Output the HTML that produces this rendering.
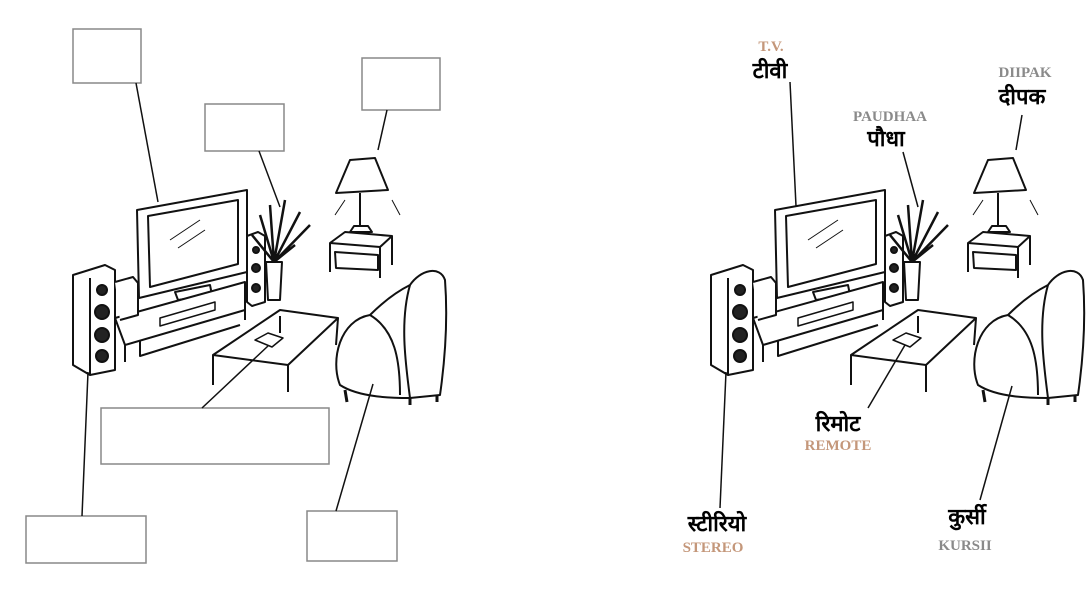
<!DOCTYPE html>
<html><head><meta charset="utf-8"><style>
html,body{margin:0;padding:0;background:#fff;width:1089px;height:600px;overflow:hidden}
svg{display:block}
.lb{font-family:"Liberation Serif",serif;font-weight:bold;font-size:15px;text-anchor:middle}
.hi{font-family:"Liberation Sans","Noto Sans CJK SC",sans-serif;font-weight:bold;font-size:22px;text-anchor:middle;fill:#000}
</style></head><body>
<svg width="1089" height="600" viewBox="0 0 1089 600" xmlns="http://www.w3.org/2000/svg">
<defs>
<g id="scene" fill="none" stroke="#111" stroke-width="2" stroke-linejoin="round">
 <!-- TV -->
 <path d="M137 210 L247 190 L247 272 L139 298 Z" fill="#fff"/>
 <path d="M148 216 L238 200 L238 264 L150 287 Z"/>
 <path d="M170 240 L200 220 M178 248 L205 230" stroke-width="1"/>
 <path d="M175 292 L210 285 L212 295 L178 300 Z" fill="#fff"/>
 <!-- cabinet -->
 <path d="M115 318 L245 282 L245 310 L125 345 Z" fill="#fff"/>
 <path d="M125 345 L125 362 M245 310 L245 320 M140 340 L140 356 L240 325"/>
 <path d="M160 318 L215 302 L215 310 L160 326 Z" fill="#fff" stroke-width="1.5"/>
 <!-- left speaker -->
 <path d="M73 275 L105 265 L115 270 L115 370 L90 375 L73 365 Z" fill="#fff"/>
 <path d="M90 278 L90 375" />
 <circle cx="102" cy="290" r="5" fill="#222"/><circle cx="102" cy="312" r="7" fill="#222"/>
 <circle cx="102" cy="335" r="7" fill="#222"/><circle cx="102" cy="356" r="6" fill="#222"/>
 <path d="M115 282 L133 277 L138 283 L138 315 L120 320" fill="#fff"/>
 <!-- right speaker -->
 <path d="M247 236 L258 232 L265 236 L265 302 L252 306 L247 302 Z" fill="#fff"/>
 <circle cx="256" cy="250" r="3" fill="#222"/><circle cx="256" cy="268" r="4" fill="#222"/><circle cx="256" cy="288" r="4" fill="#222"/>
 <!-- plant -->
 <path d="M266 262 L282 262 L280 300 L268 300 Z" fill="#fff"/>
 <path d="M274 262 L260 215 M274 262 L270 205 M274 262 L285 200 M274 262 L300 212 M274 262 L310 225 M274 262 L252 235 M274 262 L295 245" stroke-width="2.5"/>
 <!-- lamp table -->
 <path d="M330 243 L345 232 L392 236 L380 247 Z" fill="#fff"/>
 <path d="M330 243 L330 272 M380 247 L380 278 M392 236 L392 265 M335 252 L378 255 L378 270 L336 268 Z"/>
 <path d="M336 193 L350 160 L375 158 L388 190 Z" fill="#fff"/>
 <path d="M360 193 L360 225 M350 232 L372 232 L368 226 L354 226 Z" fill="#fff"/>
 <path d="M345 200 L335 215 M392 200 L400 215" stroke-width="1"/>
 <!-- coffee table -->
 <path d="M213 355 L280 310 L338 318 L288 365 Z" fill="#fff"/>
 <path d="M213 355 L213 385 M288 365 L288 392 M338 318 L336 345 M280 316 L280 333"/>
 <path d="M255 340 L268 333 L283 338 L272 347 Z" fill="#fff" stroke-width="1.5"/>
 <!-- chair -->
 <path d="M340 385 C330 360 340 320 370 315 C385 300 400 290 410 285 C420 270 440 265 445 280 C448 320 445 360 440 395 L410 398 C395 398 360 398 340 385 Z" fill="#fff"/>
 <path d="M410 285 C400 320 405 360 410 398 M370 315 C395 330 400 360 400 395"/>
 <path d="M345 390 L347 402 M410 398 L410 405 M437 395 L437 402" stroke-width="3"/>
</g>
</defs>
<use href="#scene"/>
<use href="#scene" transform="translate(638,0)"/>
<!-- left boxes -->
<g fill="#fff" stroke="#888" stroke-width="1.5">
 <rect x="73" y="29" width="68" height="54"/>
 <rect x="205" y="104" width="79" height="47"/>
 <rect x="362" y="58" width="78" height="52"/>
 <rect x="101" y="408" width="228" height="56"/>
 <rect x="26" y="516" width="120" height="47"/>
 <rect x="307" y="511" width="90" height="50"/>
</g>
<g stroke="#111" stroke-width="1.5">
 <line x1="136" y1="83" x2="158" y2="202"/>
 <line x1="259" y1="151" x2="280" y2="207"/>
 <line x1="387" y1="110" x2="378" y2="150"/>
 <line x1="202" y1="408" x2="268" y2="346"/>
 <line x1="82" y1="516" x2="88" y2="372"/>
 <line x1="336" y1="511" x2="373" y2="384"/>
 <line x1="790" y1="82" x2="796" y2="206"/>
 <line x1="903" y1="152" x2="918" y2="207"/>
 <line x1="1022" y1="115" x2="1016" y2="150"/>
 <line x1="868" y1="408" x2="905" y2="345"/>
 <line x1="720" y1="508" x2="726" y2="372"/>
 <line x1="980" y1="500" x2="1012" y2="386"/>
</g>
<text class="lb" x="771" y="51" fill="#c4977a">T.V.</text>
<text class="hi" x="770" y="78">टीवी</text>
<text class="lb" x="890" y="121" fill="#8a8a8a">PAUDHAA</text>
<text class="hi" x="886" y="146">पौधा</text>
<text class="lb" x="1025" y="77" fill="#8a8a8a">DIIPAK</text>
<text class="hi" x="1022" y="104">दीपक</text>
<text class="hi" x="838" y="431">रिमोट</text>
<text class="lb" x="838" y="450" fill="#c4977a">REMOTE</text>
<text class="hi" x="717" y="531">स्टीरियो</text>
<text class="lb" x="713" y="552" fill="#c4977a">STEREO</text>
<text class="hi" x="967" y="524">कुर्सी</text>
<text class="lb" x="965" y="550" fill="#8a8a8a">KURSII</text>
</svg>
</body></html>
